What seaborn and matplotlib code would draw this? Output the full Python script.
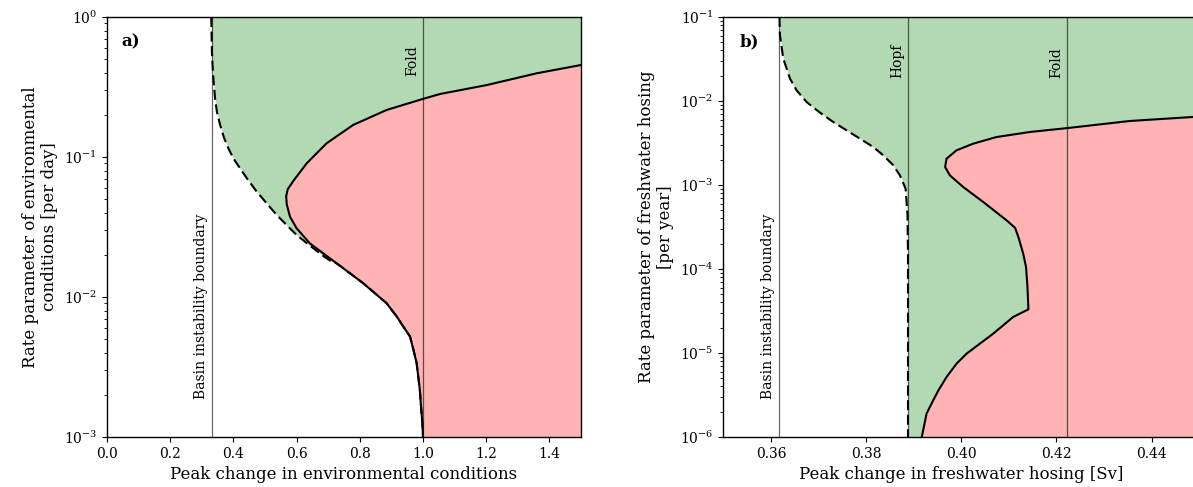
import numpy as np
import matplotlib
matplotlib.use("Agg")
import matplotlib.pyplot as plt
import matplotlib.transforms as mtransforms
import seaborn as sns

sns.set_style("ticks")
plt.rcParams['font.family'] = ['DejaVu Serif']
plt.rcParams['mathtext.fontset'] = 'dejavuserif'
for k in ['text.color', 'axes.labelcolor', 'xtick.color', 'ytick.color',
          'axes.edgecolor']:
    plt.rcParams[k] = 'black'
plt.rcParams['xtick.direction'] = 'out'
plt.rcParams['ytick.direction'] = 'out'
plt.rcParams['xtick.major.size'] = 3.5
plt.rcParams['ytick.major.size'] = 3.5
plt.rcParams['ytick.minor.size'] = 2
plt.rcParams['ytick.minor.width'] = 0.6

# ---------------- Panel a) data (x = peak change, log10 of rate) ----------------
a_tip_x = [1.5, 1.36, 1.202, 1.054, 1.0, 0.885, 0.779, 0.695, 0.632, 0.590,
           0.572, 0.567, 0.569, 0.579, 0.60, 0.642, 0.727, 0.811, 0.885,
           0.917, 0.938, 0.959, 0.97, 0.98, 0.985, 0.99, 0.993, 0.998, 1.0]
a_tip_logy = [-0.343, -0.402, -0.486, -0.55, -0.585, -0.664, -0.771, -0.902,
              -1.045, -1.17, -1.23, -1.28, -1.34, -1.426, -1.509, -1.617,
              -1.76, -1.902, -2.045, -2.14, -2.212, -2.283, -2.379, -2.474,
              -2.569, -2.664, -2.76, -2.9, -3.0]
a_basin_x = [0.330, 0.3305, 0.332, 0.334, 0.337, 0.342, 0.348, 0.358, 0.37,
             0.384, 0.40, 0.421, 0.445, 0.474, 0.505, 0.537, 0.568, 0.60,
             0.627, 0.653, 0.68, 0.706, 0.727, 0.811, 0.885, 0.917, 0.938,
             0.959, 0.97, 0.98, 0.985, 0.99, 0.993, 0.998, 1.0]
a_basin_logy = [0.0, -0.08, -0.25, -0.343, -0.45, -0.581, -0.68, -0.771,
                -0.86, -0.938, -1.01, -1.081, -1.16, -1.248, -1.33, -1.414,
                -1.485, -1.557, -1.606, -1.652, -1.70, -1.74, -1.76, -1.902,
                -2.045, -2.14, -2.212, -2.283, -2.379, -2.474, -2.569, -2.664,
                -2.76, -2.9, -3.0]
a_basin_line = 1 / 3
a_fold_line = 1.0

# ---------------- Panel b) data ----------------
b_tip_x = [0.45, 0.4487, 0.4354, 0.4225, 0.4144, 0.4074, 0.4025, 0.399,
           0.3969, 0.3966, 0.3976, 0.4004, 0.4046, 0.4095, 0.4113, 0.412,
           0.413, 0.4136, 0.4139, 0.4141, 0.4109, 0.4067, 0.4039, 0.4011,
           0.399, 0.3969, 0.3952, 0.3941, 0.3927, 0.3917]
b_tip_logy = [-2.18, -2.19, -2.238, -2.321, -2.369, -2.429, -2.508, -2.587,
              -2.686, -2.786, -2.885, -3.024, -3.202, -3.42, -3.51, -3.62,
              -3.817, -3.976, -4.214, -4.48, -4.571, -4.77, -4.889, -5.008,
              -5.127, -5.286, -5.444, -5.563, -5.722, -6.0]
b_basin_x = [0.3618, 0.3619, 0.3623, 0.3626, 0.364, 0.3654, 0.3675, 0.3703,
             0.3731, 0.3759, 0.3787, 0.3815, 0.3836, 0.3857, 0.3871, 0.3883,
             0.3885, 0.3887, 0.3888, 0.3888, 0.3888]
b_basin_logy = [-1.0, -1.218, -1.376, -1.495, -1.733, -1.873, -2.012, -2.138,
                -2.25, -2.349, -2.448, -2.548, -2.646, -2.765, -2.885, -3.043,
                -3.202, -3.36, -3.837, -5.0, -6.0]
b_basin_line = 0.3618
b_hopf_line = 0.3889
b_fold_line = 0.4223

green = (0.70, 0.85, 0.70)
red = (1.0, 0.70, 0.70)

W, H = 1193, 487
fig = plt.figure(figsize=(W / 100, H / 100), dpi=100)
axA = fig.add_axes([107 / W, 1 - 437 / H, 474 / W, 420 / H])
axB = fig.add_axes([723.3 / W, 1 - 437 / H, 476 / W, 420 / H])

dash = (0, (4.8, 2.2))


def draw_panel(ax, tip_x, tip_logy, bas_x, bas_logy, xmax):
    tip_y = 10 ** np.array(tip_logy)
    bas_y = 10 ** np.array(bas_logy)
    ax.fill_betweenx(bas_y, bas_x, xmax, color=green, lw=0, zorder=1)
    ax.fill_betweenx(tip_y, tip_x, xmax, color=red, lw=0, zorder=2)
    sns.lineplot(x=bas_x, y=bas_y, sort=False, estimator=None, ax=ax,
                 color='black', lw=1.5, linestyle=dash, zorder=4)
    sns.lineplot(x=tip_x, y=tip_y, sort=False, estimator=None, ax=ax,
                 color='black', lw=1.5, zorder=5)


def vline_text(ax, x, label, yfrac):
    ax.axvline(x, color='black', lw=0.9, alpha=0.6, zorder=3)
    trans = mtransforms.blended_transform_factory(ax.transData, ax.transAxes)
    ax.annotate(label, xy=(x, yfrac), xycoords=trans, xytext=(-3, 0),
                textcoords='offset points', rotation=90, ha='right',
                va='bottom', fontsize=10, zorder=6)


# Panel a
draw_panel(axA, a_tip_x, a_tip_logy, a_basin_x, a_basin_logy, 1.5)
axA.set_yscale('log')
axA.set_xlim(0, 1.5)
axA.set_ylim(1e-3, 1)
vline_text(axA, a_basin_line, 'Basin instability boundary', 0.09)
vline_text(axA, a_fold_line, 'Fold', 0.86)
axA.set_xticks([0.0, 0.2, 0.4, 0.6, 0.8, 1.0, 1.2, 1.4])
axA.set_xlabel('Peak change in environmental conditions', fontsize=12)
axA.set_ylabel('Rate parameter of environmental\nconditions [per day]', fontsize=12)
axA.text(0.031, 0.96, 'a)', transform=axA.transAxes, fontsize=12,
         fontweight='bold', va='top', ha='left')

# Panel b
draw_panel(axB, b_tip_x, b_tip_logy, b_basin_x, b_basin_logy, 0.45)
axB.set_yscale('log')
axB.set_xlim(0.35, 0.45)
axB.set_ylim(1e-6, 1e-1)
vline_text(axB, b_basin_line, 'Basin instability boundary', 0.09)
vline_text(axB, b_hopf_line, 'Hopf', 0.855)
vline_text(axB, b_fold_line, 'Fold', 0.855)
axB.set_xticks([0.36, 0.38, 0.40, 0.42, 0.44])
axB.set_xlabel('Peak change in freshwater hosing [Sv]', fontsize=12)
axB.set_ylabel('Rate parameter of freshwater hosing\n[per year]', fontsize=12)
axB.text(0.034, 0.96, 'b)', transform=axB.transAxes, fontsize=12,
         fontweight='bold', va='top', ha='left')

for ax in (axA, axB):
    ax.tick_params(axis='both', labelsize=10)
    ax.tick_params(axis='y', which='minor', left=True)
    for s in ax.spines.values():
        s.set_linewidth(1.0)
        s.set_zorder(7)

fig.savefig('out.png', dpi=100)
